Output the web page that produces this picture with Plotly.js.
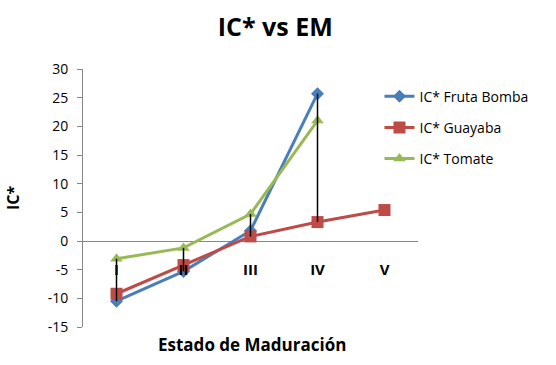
<!DOCTYPE html>
<html><head><meta charset="utf-8">
<script src="https://cdn.plot.ly/plotly-3.0.1.min.js"></script>
<style>html,body{margin:0;padding:0;background:#fff}</style>
</head><body><div id="chart" style="width:556px;height:365px"></div>
<script>
const categories = ["I", "II", "III", "IV", "V"];
const frutaBomba = [-10.5, -5.3, 1.8, 25.7, null];
const guayaba = [-9.2, -4.2, 0.8, 3.3, 5.4];
const tomate = [-3.1, -1.2, 4.7, 21.0, null];
const seriesNames = ["IC* Fruta Bomba", "IC* Guayaba", "IC* Tomate"];
const yTicks = [-15, -10, -5, 0, 5, 10, 15, 20, 25, 30];

// high-low lines derived from the series
const hlX = [], hlY = [];
categories.forEach((c, i) => {
  const vals = [frutaBomba[i], guayaba[i], tomate[i]].filter(v => v !== null);
  if (vals.length > 1) {
    hlX.push(c, c, null);
    hlY.push(Math.max(...vals), Math.min(...vals), null);
  }
});

const font = "Open Sans, Noto Sans, sans-serif";
const traces = [
  {x: categories, y: frutaBomba, name: seriesNames[0], legendgroup: "a", mode: "lines+markers",
   line: {color: "#4a7ebb", width: 3}, marker: {symbol: "diamond", size: 10, color: "#4a7ebb"}},
  {x: categories, y: guayaba, name: seriesNames[1], legendgroup: "b", mode: "lines+markers",
   line: {color: "#be4b48", width: 3}, marker: {symbol: "square", size: 12, color: "#be4b48"}},
  {x: categories, y: tomate, name: seriesNames[2], legendgroup: "c", mode: "lines+markers",
   line: {color: "#98b954", width: 3}, marker: {symbol: "triangle-up", size: 11, color: "#98b954"}},
  {x: hlX, y: hlY, mode: "lines", showlegend: false, hoverinfo: "skip",
   line: {color: "#000000", width: 1.5}}
];

const layout = {
  width: 556, height: 365,
  margin: {l: 83, r: 138, t: 69, b: 38},
  paper_bgcolor: "#fff", plot_bgcolor: "#fff",
  font: {family: font, color: "#000"},
  title: {text: "<b>IC* vs EM</b>", font: {size: 25, family: font, color: "#000"},
          x: 0.495, xanchor: "center", y: 0.925, yanchor: "middle"},
  xaxis: {
    type: "category", categoryorder: "array", categoryarray: categories,
    range: [-0.5, 4.5], anchor: "free", position: 1/3,
    showline: false, showgrid: false, zeroline: false, ticks: "",
    tickfont: {size: 15, family: font, color: "#000", weight: "bold"},
    ticklabelstandoff: 18
  },
  yaxis: {
    range: [-15, 30], tickvals: yTicks, ticktext: yTicks.map(String),
    showline: true, linecolor: "#868686", linewidth: 1,
    ticks: "outside", ticklen: 5, tickcolor: "#868686",
    showgrid: false, zeroline: true, zerolinecolor: "#868686", zerolinewidth: 1,
    tickfont: {size: 14, family: font, color: "#000"},
    ticklabelstandoff: 6,
    title: {text: "<b>IC*</b>", font: {size: 16, family: font, color: "#000"}, standoff: 24}
  },
  legend: {x: 0.885, xanchor: "left", y: 0.955, yanchor: "top",
           traceorder: "grouped",
           font: {size: 14, family: font, color: "#000"},
           tracegroupgap: 10, itemwidth: 30, bgcolor: "rgba(0,0,0,0)"},
  annotations: [{text: "<b>Estado de Maduración</b>", xref: "paper", yref: "paper",
                 x: 0.505, y: -0.015, xanchor: "center", yanchor: "top", showarrow: false,
                 font: {size: 17, family: font, color: "#000"}}],
  showlegend: true
};
Plotly.newPlot("chart", traces, layout, {staticPlot: true, displayModeBar: false});
</script></body></html>
